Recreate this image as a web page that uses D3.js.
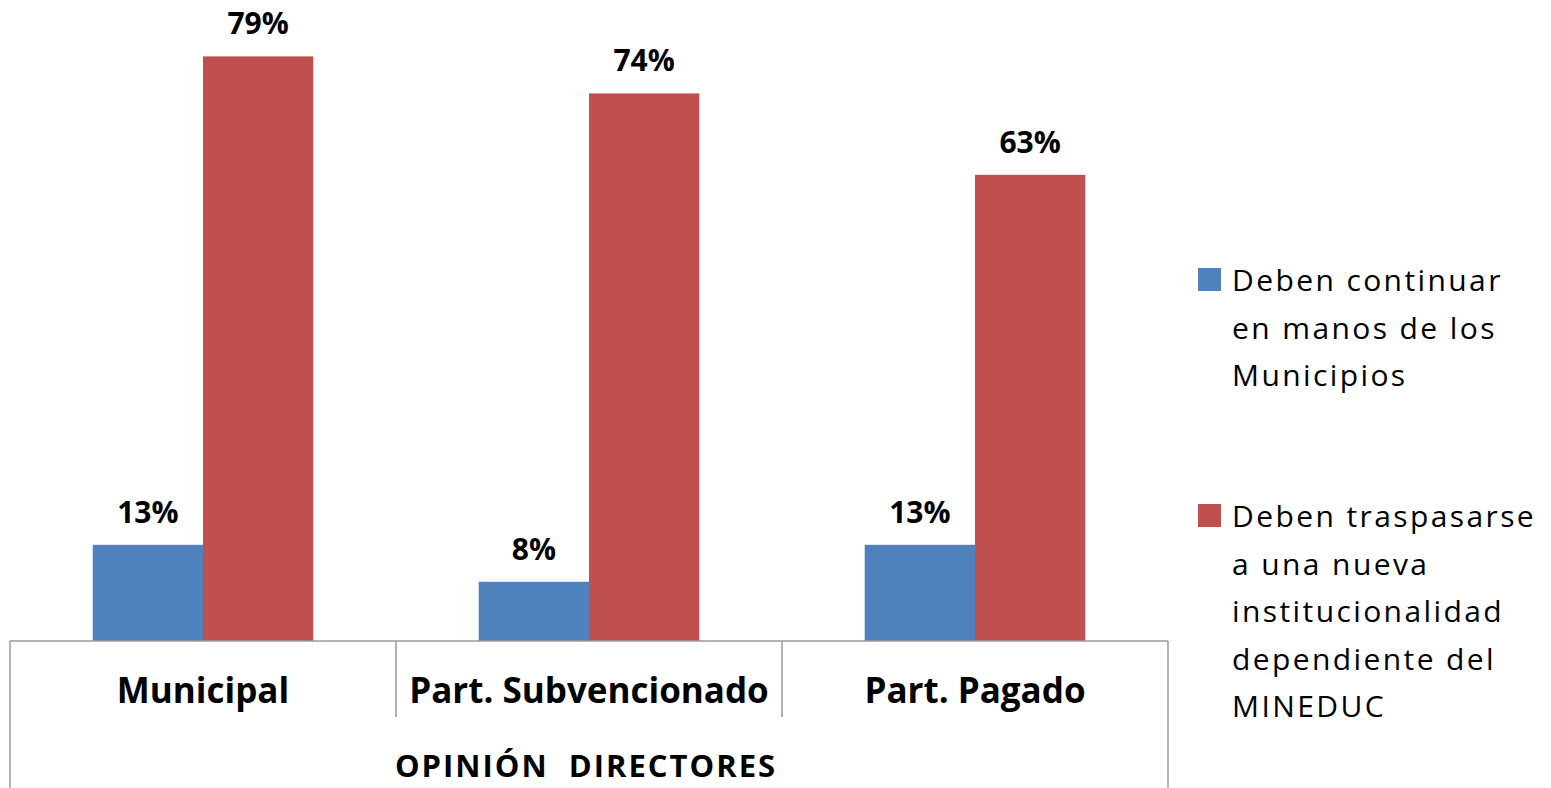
<!DOCTYPE html>
<html>
<head>
<meta charset="utf-8">
<script src="https://cdn.jsdelivr.net/npm/d3@7"></script>
<style>
  body { margin: 0; background: #fff; }
  svg { display: block; font-family: "Open Sans", "DejaVu Sans", sans-serif; }
</style>
</head>
<body>
<svg id="chart"></svg>
<script>
let w = 1551;
let h = 788;

// data
let categories = ["Municipal", "Part. Subvencionado", "Part. Pagado"];
let seriesNames = ["Deben continuar en manos de los Municipios",
  "Deben traspasarse a una nueva institucionalidad dependiente del MINEDUC"];
let continuar = [13, 8, 13];
let traspasar = [79, 74, 63];
let legendLines = [
  ["Deben continuar", "en manos de los", "Municipios"],
  ["Deben traspasarse", "a una nueva", "institucionalidad", "dependiente del", "MINEDUC"]
];
let axisTitle = "OPINIÓN  DIRECTORES";
let colors = ["#4f81bd", "#c0504d"];

let svg = d3.select("#chart").attr("width", w).attr("height", h);

let left = 10, right = 1168, base = 641;

let xScale = d3.scaleBand().domain(categories).range([left, right]).paddingInner(0).paddingOuter(0);
let xSub = d3.scaleBand().domain([0, 1]).range([0, xScale.bandwidth()]).paddingOuter(0.75).paddingInner(0);
let yScale = d3.scaleLinear().domain([0, 80]).range([base, 49]);

let data = categories.map(function (c, i) {
  return { cat: c, values: [continuar[i], traspasar[i]] };
});

let groups = svg.selectAll(".group")
  .data(data)
  .enter()
  .append("g")
  .attr("class", "group")
  .attr("transform", function (d) { return "translate(" + xScale(d.cat) + ",0)"; });

groups.selectAll("rect")
  .data(function (d) { return d.values.map(function (v, k) { return { k: k, v: v }; }); })
  .enter()
  .append("rect")
  .attr("x", function (d) { return xSub(d.k); })
  .attr("y", function (d) { return yScale(d.v); })
  .attr("width", xSub.bandwidth())
  .attr("height", function (d) { return base - yScale(d.v); })
  .attr("fill", function (d) { return colors[d.k]; });

groups.selectAll(".lbl")
  .data(function (d) { return d.values.map(function (v, k) { return { k: k, v: v }; }); })
  .enter()
  .append("text")
  .attr("class", "lbl")
  .attr("x", function (d) { return xSub(d.k) + xSub.bandwidth() / 2; })
  .attr("y", function (d) { return yScale(d.v) - 22; })
  .attr("text-anchor", "middle")
  .attr("font-size", "30px")
  .attr("font-weight", "bold")
  .attr("fill", "#000")
  .text(function (d) { return d.v + "%"; });

// axis box
let axis = svg.append("g").attr("stroke", "#9a9a9a").attr("stroke-width", 1.5).attr("fill", "none");
axis.append("line").attr("x1", left).attr("x2", right).attr("y1", base).attr("y2", base);
axis.append("line").attr("x1", left).attr("x2", left).attr("y1", base).attr("y2", h);
axis.append("line").attr("x1", right).attr("x2", right).attr("y1", base).attr("y2", h);
axis.selectAll(".div")
  .data(categories.slice(1))
  .enter()
  .append("line")
  .attr("x1", function (d) { return xScale(d); })
  .attr("x2", function (d) { return xScale(d); })
  .attr("y1", base)
  .attr("y2", 717);

svg.selectAll(".cat")
  .data(categories)
  .enter()
  .append("text")
  .attr("x", function (d) { return xScale(d) + xScale.bandwidth() / 2; })
  .attr("y", 703)
  .attr("text-anchor", "middle")
  .attr("font-size", "35px")
  .attr("font-weight", "bold")
  .text(function (d) { return d; });

svg.append("text")
  .attr("x", (left + right) / 2 - 3)
  .attr("y", 777)
  .attr("text-anchor", "middle")
  .attr("font-size", "31px")
  .attr("font-weight", "bold")
  .attr("letter-spacing", "2px")
  .style("white-space", "pre")
  .text(axisTitle);

// legend
let legendTop = [268, 504];
let legend = svg.selectAll(".legend")
  .data(seriesNames)
  .enter()
  .append("g")
  .attr("class", "legend")
  .attr("transform", function (d, i) { return "translate(1198," + legendTop[i] + ")"; });

legend.append("rect")
  .attr("width", 23)
  .attr("height", 23)
  .attr("fill", function (d, i) { return colors[i]; });

legend.append("text")
  .attr("font-size", "30px")
  .attr("letter-spacing", "2.4px")
  .attr("fill", "#000")
  .selectAll("tspan")
  .data(function (d, i) { return legendLines[i]; })
  .enter()
  .append("tspan")
  .attr("x", 34)
  .attr("y", function (d, j) { return 23 + j * 47.5; })
  .text(function (d) { return d; });
</script>
</body>
</html>
